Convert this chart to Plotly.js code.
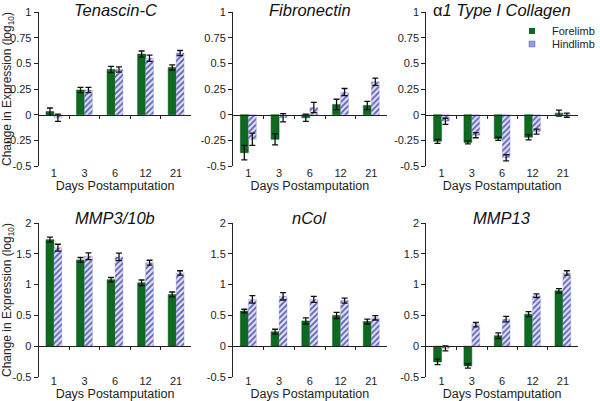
<!DOCTYPE html>
<html>
<head>
<meta charset="utf-8">
<script src="https://cdn.plot.ly/plotly-3.0.1.min.js"></script>
<style>html,body{margin:0;padding:0;background:#fff}#chart{width:600px;height:401px}</style>
</head>
<body>
<div id="chart"></div>
<script>
// ---- data ----
const days = ['1', '3', '6', '12', '21'];
const titles = ['<i>Tenascin-C</i>', '<i>Fibronectin</i>', 'α<i>1 Type I Collagen</i>', '<i>MMP3/10b</i>', '<i>nCol</i>', '<i>MMP13</i>'];

const tenascinFore = [0.03, 0.24, 0.44, 0.59, 0.46];
const tenascinForeErr = [0.035, 0.025, 0.03, 0.03, 0.025];
const tenascinHind = [-0.03, 0.24, 0.44, 0.55, 0.60];
const tenascinHindErr = [0.035, 0.025, 0.025, 0.03, 0.025];

const fibFore = [-0.37, -0.24, -0.03, 0.10, 0.09];
const fibForeErr = [0.07, 0.055, 0.035, 0.05, 0.04];
const fibHind = [-0.24, -0.03, 0.07, 0.22, 0.32];
const fibHindErr = [0.06, 0.04, 0.05, 0.035, 0.035];

const colFore = [-0.26, -0.27, -0.235, -0.22, 0.015];
const colForeErr = [0.02, 0.015, 0.015, 0.025, 0.03];
const colHind = [-0.065, -0.2, -0.42, -0.165, -0.005];
const colHindErr = [0.03, 0.025, 0.03, 0.025, 0.02];

const mmp3Fore = [1.73, 1.40, 1.08, 1.03, 0.84];
const mmp3ForeErr = [0.04, 0.04, 0.035, 0.045, 0.04];
const mmp3Hind = [1.60, 1.46, 1.45, 1.355, 1.19];
const mmp3HindErr = [0.055, 0.055, 0.06, 0.04, 0.035];

const ncolFore = [0.57, 0.235, 0.41, 0.50, 0.40];
const ncolForeErr = [0.03, 0.04, 0.05, 0.05, 0.04];
const ncolHind = [0.76, 0.81, 0.76, 0.74, 0.46];
const ncolHindErr = [0.06, 0.06, 0.05, 0.04, 0.035];

const mmp13Fore = [-0.255, -0.32, 0.17, 0.52, 0.90];
const mmp13ForeErr = [0.045, 0.035, 0.045, 0.04, 0.035];
const mmp13Hind = [-0.035, 0.35, 0.44, 0.82, 1.19];
const mmp13HindErr = [0.04, 0.035, 0.045, 0.03, 0.035];

const topTickVals = [-0.5, -0.25, 0, 0.25, 0.5, 0.75, 1];
const topTickText = ['-0.5', '-0.25', '0', '0.25', '0.5', '0.75', '1'];
const botTickVals = [-0.5, 0, 0.5, 1, 1.5, 2];
const botTickText = ['-0.5', '0', '0.5', '1', '1.5', '2'];
const yTitle = 'Change in Expression (log<sub>10</sub>)';
const xTitle = 'Days Postamputation';

const panels = [
  [tenascinFore, tenascinForeErr, tenascinHind, tenascinHindErr],
  [fibFore, fibForeErr, fibHind, fibHindErr],
  [colFore, colForeErr, colHind, colHindErr],
  [mmp3Fore, mmp3ForeErr, mmp3Hind, mmp3HindErr],
  [ncolFore, ncolForeErr, ncolHind, ncolHindErr],
  [mmp13Fore, mmp13ForeErr, mmp13Hind, mmp13HindErr]
];

// ---- layout geometry ----
const W = 600, H = 401;
const xDomains = [[40 / W, 198 / W], [241 / W, 400 / W], [441 / W, 598 / W]];
const yDomains = [[(H - 166) / H, (H - 12) / H], [(H - 377) / H, (H - 223) / H]];
const yRanges = [[-0.5, 1], [-0.5, 2]];
const labelLift = [1.5, 4.5];
const titleStandoff = [1, 5.5];

const FONT = 'Liberation Sans, Arial, sans-serif';
const green = '#0e6a21';
const hatchBg = '#e2e2f4', hatchFg = '#5a5eb6';
const traces = [];
const layout = {
  width: W, height: H,
  margin: {l: 0, r: 0, t: 0, b: 0},
  paper_bgcolor: '#fff', plot_bgcolor: '#fff',
  barmode: 'group', bargap: 0.48, bargroupgap: 0,
  font: {family: FONT, size: 11, color: '#222'},
  showlegend: true,
  legend: {x: 530 / W, y: 1 - 31 / H, xanchor: 'left', yanchor: 'middle', bgcolor: 'rgba(0,0,0,0)',
           font: {size: 11, color: '#222'}, itemwidth: 30, itemsizing: 'trace'},
  legend2: {x: 530 / W, y: 1 - 44 / H, xanchor: 'left', yanchor: 'middle', bgcolor: 'rgba(0,0,0,0)',
            font: {size: 11, color: '#222'}, itemwidth: 30, itemsizing: 'trace'},
  annotations: []
};

panels.forEach((p, i) => {
  const n = i + 1;
  const row = Math.floor(i / 3), col = i % 3;
  const xa = 'x' + (n === 1 ? '' : n), ya = 'y' + (n === 1 ? '' : n);
  const ovN = n + 6;
  traces.push({
    type: 'bar', name: 'Forelimb', x: days, y: p[0], xaxis: xa, yaxis: ya,
    marker: {color: green, line: {color: '#0a4d17', width: 0.5}},
    error_y: {type: 'data', array: p[1], visible: true, color: '#111', thickness: 1.3, width: 3},
    showlegend: false, hoverinfo: 'skip'
  });
  traces.push({
    type: 'bar', name: 'Hindlimb', x: days, y: p[2], xaxis: xa, yaxis: ya,
    marker: {color: hatchBg, line: {color: '#8a8dcc', width: 0.3},
             pattern: {shape: '/', fgcolor: hatchFg, bgcolor: hatchBg, size: 4, solidity: 0.45, fillmode: 'replace'}},
    error_y: {type: 'data', array: p[3], visible: true, color: '#111', thickness: 1.3, width: 3},
    showlegend: false, hoverinfo: 'skip'
  });
  traces.push({type: 'scatter', mode: 'markers', x: [], y: [], xaxis: 'x' + ovN, yaxis: ya,
               showlegend: false, hoverinfo: 'skip'});

  const yr = yRanges[row];
  const yd = yDomains[row];
  const zeroPos = yd[0] + (0 - yr[0]) / (yr[1] - yr[0]) * (yd[1] - yd[0]);

  layout['xaxis' + (n === 1 ? '' : n)] = {
    domain: xDomains[col], anchor: 'free', position: yd[0] + labelLift[row] / H, type: 'category',
    showline: false, ticks: '', showgrid: false, zeroline: false,
    tickfont: {size: 11, color: '#222'},
    title: {text: xTitle, font: {size: 12.5, color: '#222'}, standoff: titleStandoff[row]}
  };
  layout['xaxis' + ovN] = {
    overlaying: xa, anchor: 'free', position: zeroPos, side: 'bottom',
    range: [-0.5, 4.5], type: 'linear', showgrid: false, zeroline: false,
    showline: true, linecolor: '#222', linewidth: 1,
    ticks: 'outside', ticklen: 3, tickwidth: 1, tickcolor: '#222',
    tickvals: [0.5, 1.5, 2.5, 3.5], showticklabels: false
  };
  layout['yaxis' + (n === 1 ? '' : n)] = {
    domain: yd, anchor: xa, range: yr, autorange: false,
    showline: true, linecolor: '#222', linewidth: 1,
    ticks: 'outside', ticklen: 4, tickcolor: '#222',
    tickvals: row === 0 ? topTickVals : botTickVals,
    ticktext: row === 0 ? topTickText : botTickText,
    showgrid: false, zeroline: false,
    tickfont: {size: 11, color: '#222'},
    title: col === 0 ? {text: yTitle, font: {size: 12, color: '#222'}, standoff: 7} : {text: ''}
  };
  layout.annotations.push({
    text: titles[i], xref: 'paper', yref: 'paper',
    x: (xDomains[col][0] + xDomains[col][1]) / 2,
    y: row === 0 ? 1 : 1 - 208 / H,
    xanchor: 'center', yanchor: 'top', showarrow: false, borderpad: 0,
    font: {size: 16.5, color: '#111', family: FONT}
  });
});

// legend entries (one per series)
traces.push({type: 'scatter', mode: 'markers', name: 'Forelimb', x: [days[0]], y: [null], xaxis: 'x3', yaxis: 'y3',
             marker: {symbol: 'square', size: 6, color: green}, legend: 'legend', showlegend: true, hoverinfo: 'skip'});
traces.push({type: 'scatter', mode: 'markers', name: 'Hindlimb', x: [days[0]], y: [null], xaxis: 'x3', yaxis: 'y3',
             marker: {symbol: 'square', size: 6, color: '#9a9cd8', line: {color: hatchFg, width: 0.5}},
             legend: 'legend2', showlegend: true, hoverinfo: 'skip'});

Plotly.newPlot('chart', traces, layout, {displayModeBar: false, staticPlot: true});
</script>
</body>
</html>
